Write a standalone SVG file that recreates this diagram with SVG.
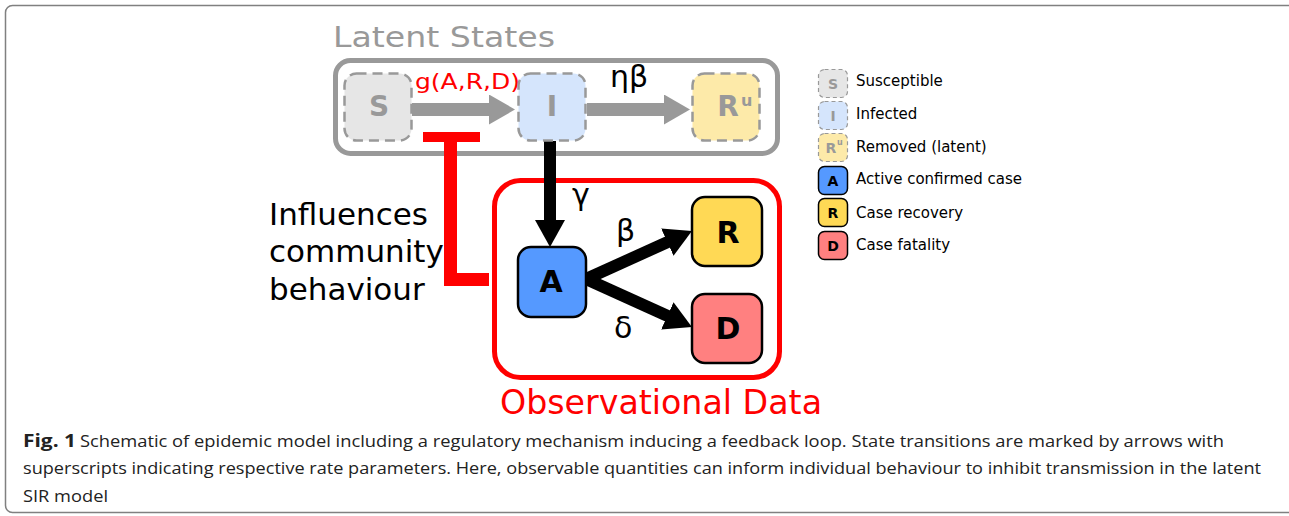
<svg xmlns="http://www.w3.org/2000/svg" width="1289" height="516" viewBox="0 0 1289 516">
<style>
.dj{font-family:"DejaVu Sans","Verdana",sans-serif}
.lt{fill:#999999;font-weight:bold;font-size:28px;text-anchor:middle}
.dk{fill:#000;font-weight:bold;font-size:30px;text-anchor:middle}
.latent{stroke:#999999;stroke-width:2.5;stroke-dasharray:10 6}
.obs{stroke:#000;stroke-width:2.5}
.leg{font-size:15px;fill:#000}
.lgl{font-size:14px;font-weight:bold;text-anchor:middle}
.lbox-l{stroke:#999999;stroke-width:1.2;stroke-dasharray:4 3}
.lbox-o{stroke:#000;stroke-width:1.5}
.cap{font-family:"Open Sans","Noto Sans",sans-serif;font-size:17px;fill:#222}
.gl{font-size:30px;fill:#000}
</style>
<defs>
<marker id="ahB" markerUnits="userSpaceOnUse" markerWidth="27" markerHeight="30" refX="15" refY="15" orient="auto" viewBox="0 0 27 30"><path d="M0,0 L27,15 L0,30 Z" fill="#000"/></marker>
<marker id="ahG" markerUnits="userSpaceOnUse" markerWidth="26" markerHeight="30" refX="14" refY="15" orient="auto" viewBox="0 0 26 30"><path d="M0,0 L26,15 L0,30 Z" fill="#999999"/></marker>
</defs>
<rect width="1289" height="516" fill="#fff"/>
<rect x="5.5" y="5.5" width="1300" height="507" rx="7" fill="none" stroke="#808080" stroke-width="1.5"/>

<g id="latent-group">
<text class="dj" x="333" y="47" font-size="29" fill="#999999" textLength="222" lengthAdjust="spacingAndGlyphs">Latent States</text>
<rect x="335.5" y="60.5" width="442" height="93" rx="15" fill="none" stroke="#999999" stroke-width="5"/>
</g>

<g id="observational-group">
<rect x="494.5" y="180.5" width="285" height="197" rx="26" fill="none" stroke="#ff0000" stroke-width="5"/>
<text class="dj" x="500" y="414" font-size="33" fill="#ff0000" textLength="322" lengthAdjust="spacingAndGlyphs">Observational Data</text>
</g>

<g id="connectors">
<line x1="412" y1="109.5" x2="503" y2="109.5" stroke="#999999" stroke-width="13" marker-end="url(#ahG)"/>
<line x1="587" y1="109.5" x2="678" y2="109.5" stroke="#999999" stroke-width="13" marker-end="url(#ahG)"/>
<line x1="550" y1="141" x2="550" y2="235" stroke="#000" stroke-width="12" marker-end="url(#ahB)"/>
<line x1="586" y1="279" x2="681" y2="236" stroke="#000" stroke-width="12" marker-end="url(#ahB)"/>
<line x1="586" y1="279" x2="681" y2="322" stroke="#000" stroke-width="12" marker-end="url(#ahB)"/>
<path d="M450.5,137 V279.5 H489" fill="none" stroke="#ff0000" stroke-width="13"/>
<line x1="423" y1="137" x2="480" y2="137" stroke="#ff0000" stroke-width="10"/>
<text class="dj" x="415" y="89" font-size="21" fill="#ff0000" textLength="105" lengthAdjust="spacingAndGlyphs">g(A,R,D)</text>
<text class="dj gl" x="610" y="87">ηβ</text>
<text class="dj gl" x="572" y="205">γ</text>
<text class="dj gl" x="616" y="241">β</text>
<text class="dj gl" x="614" y="338">δ</text>
<text class="dj" font-size="31" fill="#000"><tspan x="269" y="225">Influences</tspan><tspan x="269" y="262">community</tspan><tspan x="269" y="300">behaviour</tspan></text>
</g>

<g id="node-S">
<rect class="latent" x="344.5" y="73.5" width="67" height="67" rx="12" fill="#e6e6e6"/>
<text class="dj lt" x="379" y="116">S</text>
</g>
<g id="node-I">
<rect class="latent" x="518.5" y="73.5" width="67" height="67" rx="12" fill="#d5e5fc"/>
<text class="dj lt" x="552" y="116">I</text>
</g>
<g id="node-Ru">
<rect class="latent" x="692.5" y="73.5" width="67" height="67" rx="12" fill="#fdeaa9"/>
<text class="dj lt" x="728" y="116">R</text>
<text class="dj" x="741" y="106" font-size="16" font-weight="bold" fill="#999999">u</text>
</g>
<g id="node-A">
<rect class="obs" x="518" y="247" width="68" height="70" rx="13" fill="#5599ff"/>
<text class="dj dk" x="551" y="292">A</text>
</g>
<g id="node-R">
<rect class="obs" x="692" y="197" width="70" height="69" rx="13" fill="#ffd955"/>
<text class="dj dk" x="728" y="243">R</text>
</g>
<g id="node-D">
<rect class="obs" x="692" y="294" width="70" height="69" rx="13" fill="#ff8080"/>
<text class="dj dk" x="728" y="339">D</text>
</g>

<g id="legend">
<rect class="lbox-l" x="818.5" y="69.5" width="29" height="28" rx="6" fill="#e6e6e6"/>
<text class="dj lgl" x="833" y="89" fill="#999999">S</text>
<text class="dj leg" x="856" y="86">Susceptible</text>
<rect class="lbox-l" x="818.5" y="101.5" width="29" height="28" rx="6" fill="#d5e5fc"/>
<text class="dj lgl" x="833" y="121" fill="#999999">I</text>
<text class="dj leg" x="856" y="119">Infected</text>
<rect class="lbox-l" x="818.5" y="133.5" width="29" height="28" rx="6" fill="#fdeaa9"/>
<text class="dj lgl" x="831" y="153" fill="#999999">R</text>
<text class="dj" x="837" y="145" font-size="8" font-weight="bold" fill="#999999">u</text>
<text class="dj leg" x="856" y="152">Removed (latent)</text>
<rect class="lbox-o" x="818.5" y="166.5" width="29" height="28" rx="6" fill="#5599ff"/>
<text class="dj lgl" x="833" y="186" fill="#000">A</text>
<text class="dj leg" x="856" y="184">Active confirmed case</text>
<rect class="lbox-o" x="818.5" y="198.5" width="29" height="28" rx="6" fill="#ffd955"/>
<text class="dj lgl" x="833" y="218" fill="#000">R</text>
<text class="dj leg" x="856" y="218">Case recovery</text>
<rect class="lbox-o" x="818.5" y="231.5" width="29" height="28" rx="6" fill="#ff8080"/>
<text class="dj lgl" x="833" y="251" fill="#000">D</text>
<text class="dj leg" x="856" y="250">Case fatality</text>
</g>

<g id="caption">
<text class="cap" x="23" y="447" font-weight="bold" textLength="53" lengthAdjust="spacingAndGlyphs">Fig. 1</text>
<text class="cap" x="80" y="447" textLength="1144" lengthAdjust="spacingAndGlyphs">Schematic of epidemic model including a regulatory mechanism inducing a feedback loop. State transitions are marked by arrows with</text>
<text class="cap" x="23" y="474" textLength="1238" lengthAdjust="spacingAndGlyphs">superscripts indicating respective rate parameters. Here, observable quantities can inform individual behaviour to inhibit transmission in the latent</text>
<text class="cap" x="23" y="502" textLength="85" lengthAdjust="spacingAndGlyphs">SIR model</text>
</g>
</svg>
